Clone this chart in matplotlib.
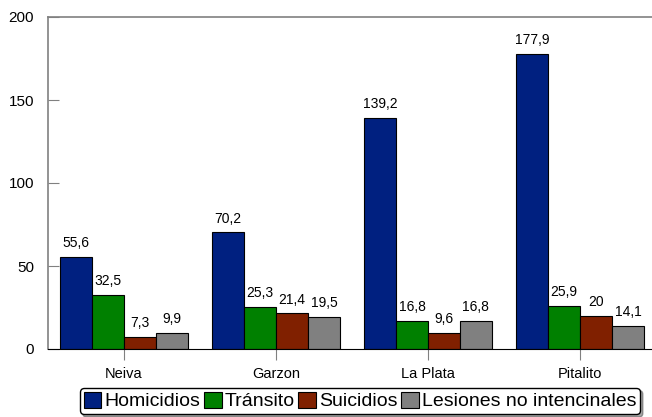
import matplotlib
matplotlib.use("Agg")
import matplotlib.pyplot as plt
import numpy as np

plt.rcParams['font.family'] = ['Liberation Sans', 'DejaVu Sans']

categories = ["Neiva", "Garzon", "La Plata", "Pitalito"]
series = ["Homicidios", "Tránsito", "Suicidios", "Lesiones no intencinales"]
values = [
    [55.6, 70.2, 139.2, 177.9],
    [32.5, 25.3, 16.8, 25.9],
    [7.3, 21.4, 9.6, 20.0],
    [9.9, 19.5, 16.8, 14.1],
]
labels = [
    ["55,6", "70,2", "139,2", "177,9"],
    ["32,5", "25,3", "16,8", "25,9"],
    ["7,3", "21,4", "9,6", "20"],
    ["9,9", "19,5", "16,8", "14,1"],
]
colors = ["#002080", "#008000", "#802000", "#808080"]

fig = plt.figure(figsize=(6.52, 4.17), dpi=100)
ax = fig.add_axes([48/652, 1-349/417, (656-48)/652, (349-17)/417])

x = np.arange(len(categories))
w = 0.21
for i, (s, v) in enumerate(zip(series, values)):
    pos = x + (i - 1.5) * w
    ax.bar(pos, v, w, color=colors[i], edgecolor="black", linewidth=0.8, label=s)
    for p, val, lab in zip(pos, v, labels[i]):
        ax.annotate(lab, (p, val), xytext=(0, 5), textcoords="offset points",
                    ha="center", va="bottom", fontsize=10)

ax.set_xlim(-0.5, 3.5)
ax.set_ylim(0, 200)
ax.set_yticks([0, 50, 100, 150, 200])
ax.set_xticks(x)
ax.set_xticklabels(categories, fontsize=10.5)
ax.tick_params(axis='y', direction='in', length=8, color='#808080', labelsize=11, pad=10)
ax.tick_params(axis='x', direction='out', length=8, color='#808080', pad=5)
for sp in ['left', 'top']:
    ax.spines[sp].set_color('#808080')
    ax.spines[sp].set_linewidth(1.2)
ax.spines['bottom'].set_color('black')
ax.spines['right'].set_visible(False)

leg = fig.legend(loc='center', bbox_to_anchor=(360/652, 1-401/417), ncol=4,
                 fontsize=14, handlelength=0.9, handleheight=0.9, handletextpad=0.15,
                 columnspacing=0.2, borderpad=0.2, borderaxespad=0, frameon=True,
                 fancybox=True, shadow=True, edgecolor='black', framealpha=1)
leg.get_frame().set_linewidth(1.0)

fig.savefig("out.png", dpi=100)
